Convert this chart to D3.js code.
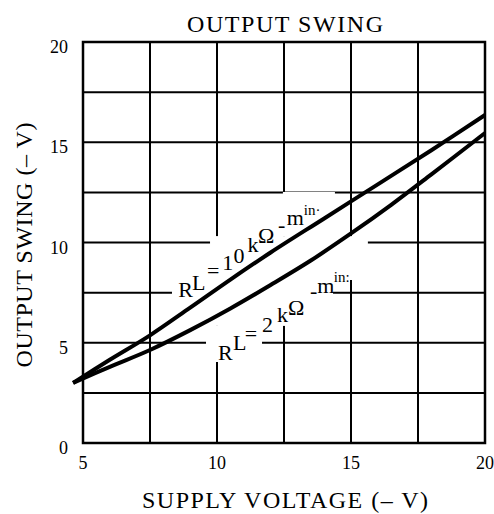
<!DOCTYPE html>
<html><head><meta charset="utf-8">
<script src="https://cdn.jsdelivr.net/npm/d3@7"></script>
<style>
body{margin:0;background:#fff}
svg{display:block}
text{font-family:"Liberation Serif","Times New Roman",serif;fill:#000}
</style>
</head><body>
<svg id="c" width="494" height="514"></svg>
<script>
// ---- data ----
const xTicks = [5, 10, 15, 20];
const yTicks = [0, 5, 10, 15, 20];
const xGrid = [5, 7.5, 10, 12.5, 15, 17.5, 20];
const yGrid = [0, 2.5, 5, 7.5, 10, 12.5, 15, 17.5, 20];

const supply10k = [4.63, 6, 7.5, 9, 10.5, 12, 14, 16, 18, 20];
const swing10k  = [3.0, 4.15, 5.37, 6.75, 8.15, 9.5, 11.2, 12.9, 14.6, 16.36];
const supply2k  = [4.63, 6, 7.5, 9, 10.5, 12, 13.5, 15, 16.5, 18, 20];
const swing2k   = [3.0, 3.8, 4.64, 5.63, 6.71, 7.88, 9.1, 10.45, 11.88, 13.4, 15.46];

// label glyphs [text, supply, swing, size]
const label10k = [["R",8.55,7.28,22],["L",9.07,7.63,22],["=",9.63,8.23,22],["1",10.2,8.63,22],["0",10.62,8.98,22],
  ["k",11.14,9.53,22],["Ω",11.53,9.98,22],["-",12.28,10.52,22],["m",12.6,10.87,22],["in·",13.24,11.37,15]];
const label2k = [["R",10.04,4.14,22],["L",10.6,4.64,22],["=",11.04,5.09,22],["2",11.68,5.54,22],["k",12.24,6.03,22],
  ["Ω",12.65,6.38,22],["-",13.47,7.23,22],["m",13.74,7.48,22],["in:",14.36,8.03,15]];
// white label backgrounds that break the grid [x0,x1,y0,y1] in data units
const labelBoxes = [[12.46,14.40,10.32,12.52],[9.74,15.63,8.13,10.32],[8.32,14.33,5.84,8.13],[9.59,11.68,4.04,5.84]];

// ---- drawing ----
const svg = d3.select("#c");
const L = 83, R = 485, T = 42, B = 443;
const x = d3.scaleLinear().domain([5, 20]).range([L, R]);
const y = d3.scaleLinear().domain([0, 20]).range([B, T]);

// grid
svg.append("g").selectAll("line").data(xGrid).join("line")
  .attr("x1", d => x(d)).attr("x2", d => x(d)).attr("y1", T).attr("y2", B)
  .attr("stroke", "#000").attr("stroke-width", 2);
svg.append("g").selectAll("line").data(yGrid).join("line")
  .attr("x1", L).attr("x2", R).attr("y1", d => y(d)).attr("y2", d => y(d))
  .attr("stroke", "#000").attr("stroke-width", 2);

// label backgrounds
svg.append("g").selectAll("rect").data(labelBoxes).join("rect")
  .attr("x", d => x(d[0])).attr("width", d => x(d[1]) - x(d[0]))
  .attr("y", d => y(d[3])).attr("height", d => y(d[2]) - y(d[3]))
  .attr("fill", "#fff");

// border
svg.append("rect").attr("x", L).attr("y", T).attr("width", R - L).attr("height", B - T)
  .attr("fill", "none").attr("stroke", "#000").attr("stroke-width", 2.5);

// tick labels
svg.append("g").selectAll("text").data(xTicks).join("text")
  .attr("x", d => x(d)).attr("y", 469).attr("text-anchor", "middle")
  .attr("font-size", 18).text(d => d);
svg.append("g").selectAll("text").data(yTicks).join("text")
  .attr("x", 68).attr("y", d => y(d) + 11).attr("text-anchor", "end")
  .attr("font-size", 18).text(d => d);

// titles
svg.append("text").attr("x", 285).attr("y", 32).attr("text-anchor", "middle")
  .attr("font-size", 24).attr("textLength", 196).attr("lengthAdjust", "spacing").text("OUTPUT SWING");
svg.append("text").attr("x", 285).attr("y", 508).attr("text-anchor", "middle")
  .attr("font-size", 24).attr("textLength", 286).attr("lengthAdjust", "spacing").text("SUPPLY VOLTAGE (– V)");
svg.append("text").attr("transform", "translate(32,245) rotate(-90)").attr("text-anchor", "middle")
  .attr("font-size", 24).attr("textLength", 245).attr("lengthAdjust", "spacing").text("OUTPUT SWING (– V)");

// curve labels
[label10k, label2k].forEach(lab => {
  svg.append("g").selectAll("text").data(lab).join("text")
    .attr("x", d => x(d[1])).attr("y", d => y(d[2])).attr("font-size", d => d[3]).text(d => d[0]);
});

// curves
svg.append("clipPath").attr("id", "clip").append("rect")
  .attr("x", 50).attr("y", T - 5).attr("width", R - 50).attr("height", B - T + 10);
const line = d3.line().x(d => x(d[0])).y(d => y(d[1])).curve(d3.curveCatmullRom.alpha(0.5));
const g = svg.append("g").attr("clip-path", "url(#clip)");
[[supply10k, swing10k], [supply2k, swing2k]].forEach(([xs, ys]) => {
  g.append("path").attr("d", line(xs.map((v, i) => [v, ys[i]])))
    .attr("fill", "none").attr("stroke", "#000").attr("stroke-width", 4);
});
</script>
</body></html>
